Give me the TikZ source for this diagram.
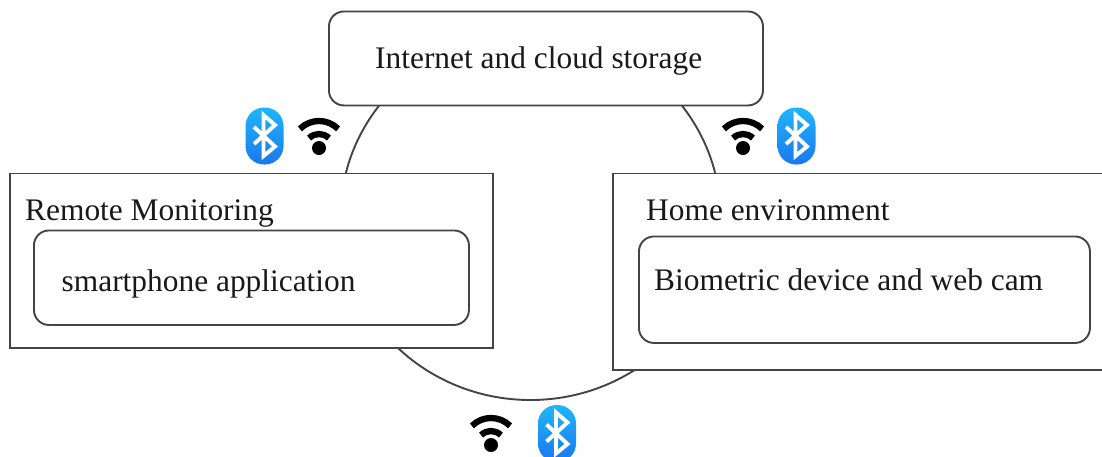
\documentclass[tikz,border=0pt]{standalone}
\usepackage{fontspec}
\setmainfont{Liberation Serif}
\usetikzlibrary{shadings,shapes.geometric}
\definecolor{linegray}{HTML}{444444}
\definecolor{btTop}{HTML}{1FB6FB}
\definecolor{btBottom}{HTML}{1A78EE}
\tikzset{
  x=1pt,y=-1pt,
  box/.style={draw=linegray,line width=1.9pt,fill=white,anchor=north west,inner sep=0pt},
  roundbox/.style={box,rounded corners=15pt},
  label/.style={anchor=base west,inner sep=0pt,font=\fontsize{31.4}{34}\selectfont,text=black!90},
  pics/bticon/.style={code={
    \shade[top color=btTop,bottom color=btBottom,rounded corners=18.5pt] (-19,-28.5) rectangle (19,28.5);
    \draw[white,line width=3.9pt,line join=miter] (-10.5,-9) -- (10.5,10.5) -- (-1,20) -- (-1,-21) -- (10.5,-11) -- (-10.5,8);
  }},
  pics/wifiicon/.style={code={
    \fill[black] (0,12) circle (7);
    \draw[black,line width=6.3pt] (-9.9,2.1) arc[start angle=225,end angle=315,radius=14];
    \draw[black,line width=6.3pt] (-19.1,-7.1) arc[start angle=225,end angle=315,radius=27];
  }}
}
\begin{document}
\begin{tikzpicture}
\useasboundingbox (0,0) rectangle (1102,456);
\node[draw=linegray,line width=1.9pt,ellipse,minimum width=380pt,minimum height=367pt,inner sep=0pt] (ring) at (530.5,216.5) {};
\node[roundbox,minimum width=434pt,minimum height=94pt] (cloud) at (328,10.5) {};
\node[box,minimum width=483pt,minimum height=174.5pt] (remote) at (9,172.5) {};
\node[roundbox,minimum width=435pt,minimum height=94.5pt] (phone) at (33,229.5) {};
\node[box,minimum width=500pt,minimum height=196.5pt] (home) at (612,172.5) {};
\node[roundbox,minimum width=451pt,minimum height=106.5pt] (device) at (638,235.5) {};
\node[label] (t1) at (375,68.6) {Internet and cloud storage};
\node[label] (t2) at (25,220.4) {Remote Monitoring};
\node[label] (t3) at (61.5,291.4) {smartphone application};
\node[label] (t4) at (646,220.4) {Home environment};
\node[label] (t5) at (654,290) {Biometric device and web cam};
\pic at (264.5,136) {bticon};
\pic at (319,136) {wifiicon};
\pic at (743,136) {wifiicon};
\pic at (796.5,136) {bticon};
\pic at (491,433) {wifiicon};
\pic at (557,433.5) {bticon};
\end{tikzpicture}
\end{document}
